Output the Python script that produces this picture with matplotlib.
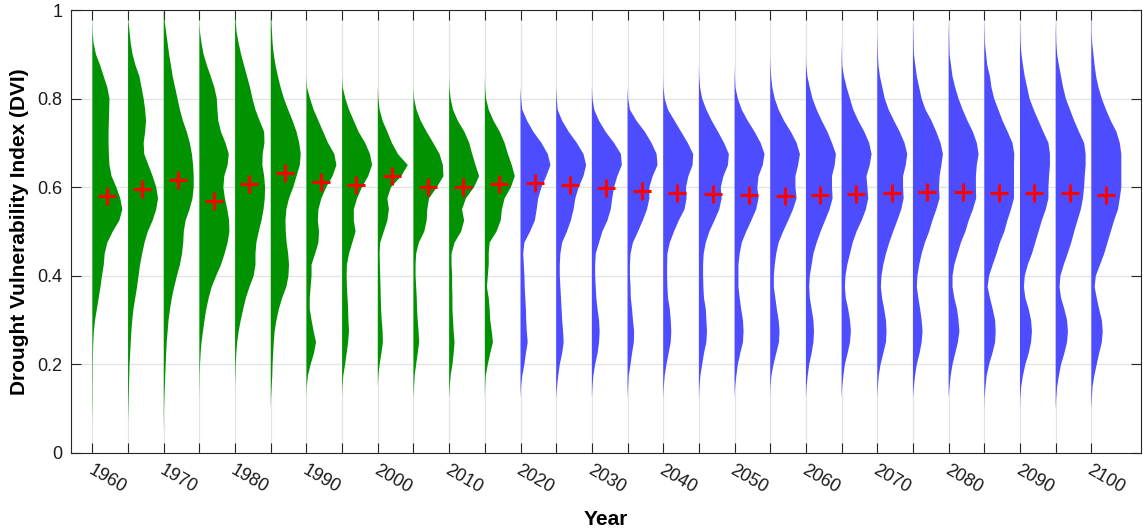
import numpy as np
import matplotlib
matplotlib.use("Agg")
import matplotlib.pyplot as plt
import matplotlib.transforms as mtransforms

plt.rcParams['font.family'] = ['Liberation Sans', 'DejaVu Sans']

# DVI levels at which the density profiles are sampled
dvi_levels = [0.05, 0.075, 0.1, 0.125, 0.15, 0.175, 0.2, 0.225, 0.25, 0.275,
              0.3, 0.325, 0.35, 0.375, 0.4, 0.425, 0.45, 0.475, 0.5, 0.525,
              0.55, 0.575, 0.6, 0.625, 0.65, 0.675, 0.7, 0.725, 0.75, 0.775,
              0.8, 0.825, 0.85, 0.875, 0.9, 0.925, 0.95, 0.975, 1.0]

years_obs = [1960, 1965, 1970, 1975, 1980, 1985, 1990, 1995, 2000, 2005, 2010, 2015]
years_proj = [2020, 2025, 2030, 2035, 2040, 2045, 2050, 2055, 2060, 2065, 2070,
              2075, 2080, 2085, 2090, 2095, 2100]

# relative density (1 = widest point) of each period, from low to high DVI
dens_1960 = [0, 0, 0.005, 0.01, 0.01, 0.015, 0.015, 0.02, 0.03, 0.05, 0.09, 0.15, 0.21, 0.27, 0.32, 0.38, 0.41, 0.50, 0.68, 0.90,
             1.0, 0.93, 0.80, 0.64, 0.57, 0.55, 0.54, 0.54, 0.55, 0.56, 0.57, 0.50, 0.38, 0.26, 0.12, 0.04, 0.01, 0, 0]
dens_1965 = [0, 0, 0.01, 0.02, 0.03, 0.04, 0.05, 0.07, 0.09, 0.11, 0.14, 0.18, 0.24, 0.30, 0.35, 0.40, 0.47, 0.55, 0.66, 0.82,
             0.94, 1.0, 0.94, 0.82, 0.68, 0.54, 0.52, 0.57, 0.60, 0.57, 0.52, 0.45, 0.38, 0.25, 0.15, 0.09, 0.05, 0.01, 0]
dens_1970 = [0, 0.005, 0.01, 0.02, 0.035, 0.05, 0.065, 0.08, 0.10, 0.13, 0.16, 0.21, 0.27, 0.35, 0.44, 0.54, 0.61, 0.65, 0.67, 0.73,
             0.86, 0.96, 1.0, 1.0, 0.98, 0.94, 0.87, 0.77, 0.64, 0.54, 0.46, 0.38, 0.30, 0.24, 0.18, 0.13, 0.08, 0.03, 0]
dens_1975 = [0, 0, 0, 0, 0.005, 0.01, 0.02, 0.04, 0.07, 0.12, 0.17, 0.23, 0.31, 0.41, 0.56, 0.72, 0.84, 0.94, 1.0, 0.99,
             0.93, 0.85, 0.80, 0.83, 0.94, 0.98, 0.87, 0.72, 0.63, 0.60, 0.58, 0.50, 0.38, 0.25, 0.14, 0.07, 0.02, 0, 0]
dens_1980 = [0, 0, 0, 0, 0, 0.01, 0.02, 0.04, 0.07, 0.12, 0.19, 0.27, 0.36, 0.48, 0.62, 0.68, 0.68, 0.71, 0.79, 0.88,
             0.95, 0.99, 1.0, 0.97, 0.91, 0.92, 0.98, 0.97, 0.82, 0.68, 0.58, 0.50, 0.40, 0.30, 0.20, 0.12, 0.05, 0.02, 0]
dens_1985 = [0, 0, 0, 0.01, 0.03, 0.05, 0.06, 0.08, 0.10, 0.13, 0.19, 0.27, 0.38, 0.52, 0.59, 0.61, 0.58, 0.53, 0.50, 0.49,
             0.52, 0.61, 0.75, 0.86, 0.97, 1.0, 0.95, 0.86, 0.73, 0.58, 0.44, 0.33, 0.24, 0.16, 0.10, 0.06, 0.04, 0.02, 0]
dens_1990 = [0, 0, 0, 0, 0.01, 0.05, 0.14, 0.25, 0.32, 0.24, 0.17, 0.11, 0.11, 0.14, 0.17, 0.17, 0.29, 0.40, 0.42, 0.38,
             0.40, 0.50, 0.66, 0.87, 1.0, 0.93, 0.72, 0.56, 0.40, 0.24, 0.12, 0.02, 0, 0, 0, 0, 0, 0, 0]
dens_1995 = [0, 0, 0, 0, 0.01, 0.04, 0.10, 0.15, 0.20, 0.23, 0.21, 0.20, 0.18, 0.16, 0.15, 0.16, 0.23, 0.34, 0.45, 0.39,
             0.39, 0.50, 0.66, 0.87, 1.0, 0.93, 0.77, 0.55, 0.39, 0.23, 0.11, 0.02, 0, 0, 0, 0, 0, 0, 0]
dens_2000 = [0, 0, 0, 0, 0, 0.02, 0.06, 0.12, 0.17, 0.16, 0.13, 0.11, 0.10, 0.09, 0.08, 0.07, 0.06, 0.08, 0.20, 0.32,
             0.37, 0.32, 0.44, 0.78, 1.0, 0.67, 0.47, 0.32, 0.16, 0.06, 0.02, 0, 0, 0, 0, 0, 0, 0, 0]
dens_2005 = [0, 0, 0, 0, 0.02, 0.04, 0.09, 0.14, 0.19, 0.17, 0.14, 0.12, 0.11, 0.09, 0.07, 0.07, 0.09, 0.18, 0.36, 0.44,
             0.46, 0.52, 0.78, 1.0, 0.98, 0.87, 0.66, 0.44, 0.24, 0.10, 0.02, 0, 0, 0, 0, 0, 0, 0, 0]
dens_2010 = [0, 0, 0, 0, 0.02, 0.05, 0.11, 0.15, 0.18, 0.15, 0.13, 0.11, 0.11, 0.10, 0.10, 0.08, 0.08, 0.18, 0.40, 0.50,
             0.43, 0.56, 0.83, 1.0, 0.88, 0.77, 0.67, 0.51, 0.29, 0.13, 0.05, 0.01, 0, 0, 0, 0, 0, 0, 0]
dens_2015 = [0, 0, 0, 0, 0.01, 0.03, 0.10, 0.18, 0.27, 0.23, 0.18, 0.16, 0.13, 0.07, 0.10, 0.13, 0.13, 0.16, 0.39, 0.53,
             0.57, 0.66, 0.87, 1.0, 0.90, 0.77, 0.66, 0.50, 0.29, 0.13, 0.04, 0.01, 0, 0, 0, 0, 0, 0, 0]
dens_2020 = [0, 0, 0, 0, 0.02, 0.06, 0.13, 0.18, 0.24, 0.21, 0.19, 0.18, 0.16, 0.14, 0.13, 0.11, 0.09, 0.13, 0.32, 0.48,
             0.54, 0.59, 0.70, 0.86, 1.0, 0.91, 0.70, 0.43, 0.22, 0.06, 0.02, 0, 0, 0, 0, 0, 0, 0, 0]
dens_2025 = [0, 0, 0, 0, 0.03, 0.07, 0.12, 0.20, 0.25, 0.23, 0.20, 0.18, 0.16, 0.14, 0.12, 0.12, 0.14, 0.20, 0.36, 0.49,
             0.58, 0.64, 0.75, 0.91, 1.0, 0.91, 0.69, 0.42, 0.20, 0.05, 0.02, 0, 0, 0, 0, 0, 0, 0, 0]
dens_2030 = [0, 0, 0, 0, 0.02, 0.05, 0.11, 0.19, 0.24, 0.26, 0.24, 0.19, 0.15, 0.13, 0.11, 0.11, 0.13, 0.24, 0.35, 0.52,
             0.63, 0.68, 0.74, 0.85, 1.0, 0.97, 0.74, 0.46, 0.24, 0.08, 0.02, 0, 0, 0, 0, 0, 0, 0, 0]
dens_2035 = [0, 0, 0, 0, 0.02, 0.04, 0.10, 0.15, 0.21, 0.22, 0.18, 0.15, 0.11, 0.10, 0.08, 0.08, 0.10, 0.18, 0.35, 0.51,
             0.65, 0.73, 0.73, 0.84, 1.0, 0.97, 0.80, 0.58, 0.30, 0.08, 0.02, 0, 0, 0, 0, 0, 0, 0, 0]
dens_2040 = [0, 0, 0, 0, 0.02, 0.05, 0.11, 0.18, 0.25, 0.27, 0.25, 0.22, 0.16, 0.14, 0.13, 0.13, 0.14, 0.22, 0.36, 0.52,
             0.71, 0.78, 0.76, 0.84, 0.98, 1.0, 0.82, 0.60, 0.38, 0.16, 0.05, 0.01, 0, 0, 0, 0, 0, 0, 0]
dens_2045 = [0, 0, 0, 0, 0.02, 0.05, 0.11, 0.17, 0.25, 0.27, 0.25, 0.23, 0.17, 0.15, 0.14, 0.14, 0.16, 0.23, 0.35, 0.52,
             0.68, 0.76, 0.73, 0.82, 0.97, 1.0, 0.84, 0.64, 0.43, 0.25, 0.11, 0.04, 0.01, 0, 0, 0, 0, 0, 0]
dens_2050 = [0, 0, 0, 0, 0.02, 0.06, 0.11, 0.19, 0.28, 0.30, 0.28, 0.22, 0.17, 0.13, 0.13, 0.13, 0.17, 0.24, 0.39, 0.56,
             0.72, 0.80, 0.76, 0.80, 0.94, 1.0, 0.87, 0.67, 0.44, 0.24, 0.11, 0.03, 0.01, 0, 0, 0, 0, 0, 0]
dens_2055 = [0, 0, 0, 0, 0.01, 0.04, 0.11, 0.20, 0.29, 0.31, 0.28, 0.22, 0.17, 0.12, 0.12, 0.15, 0.20, 0.28, 0.43, 0.60,
             0.76, 0.88, 0.84, 0.84, 0.93, 0.99, 0.88, 0.69, 0.46, 0.28, 0.15, 0.07, 0.03, 0.01, 0, 0, 0, 0, 0]
dens_2060 = [0, 0, 0, 0, 0.02, 0.06, 0.11, 0.19, 0.25, 0.27, 0.25, 0.19, 0.13, 0.11, 0.13, 0.19, 0.25, 0.36, 0.49, 0.64,
             0.79, 0.89, 0.87, 0.87, 0.96, 1.0, 0.87, 0.72, 0.53, 0.36, 0.22, 0.13, 0.05, 0.01, 0, 0, 0, 0, 0]
dens_2065 = [0, 0, 0, 0, 0.02, 0.06, 0.11, 0.20, 0.28, 0.31, 0.28, 0.22, 0.14, 0.11, 0.13, 0.19, 0.28, 0.37, 0.50, 0.67,
             0.81, 0.89, 0.86, 0.83, 0.94, 1.0, 0.92, 0.76, 0.56, 0.39, 0.28, 0.17, 0.08, 0.02, 0.01, 0, 0, 0, 0]
dens_2070 = [0, 0, 0, 0, 0.02, 0.05, 0.11, 0.20, 0.29, 0.31, 0.29, 0.23, 0.16, 0.12, 0.14, 0.20, 0.29, 0.40, 0.53, 0.67,
             0.80, 0.88, 0.86, 0.86, 0.95, 1.0, 0.91, 0.75, 0.56, 0.38, 0.25, 0.17, 0.09, 0.04, 0.02, 0.01, 0, 0, 0]
dens_2075 = [0, 0, 0, 0, 0.03, 0.07, 0.13, 0.22, 0.29, 0.32, 0.29, 0.24, 0.18, 0.13, 0.15, 0.21, 0.29, 0.40, 0.54, 0.65,
             0.78, 0.89, 0.87, 0.89, 0.95, 1.0, 0.92, 0.78, 0.62, 0.42, 0.29, 0.21, 0.13, 0.08, 0.03, 0.02, 0.01, 0, 0]
dens_2080 = [0, 0, 0, 0, 0.03, 0.07, 0.13, 0.22, 0.31, 0.36, 0.33, 0.28, 0.19, 0.13, 0.13, 0.19, 0.30, 0.41, 0.56, 0.67,
             0.81, 0.92, 0.91, 0.91, 0.94, 1.0, 0.94, 0.81, 0.63, 0.47, 0.33, 0.22, 0.13, 0.08, 0.03, 0.02, 0.01, 0, 0]
dens_2085 = [0, 0, 0, 0.01, 0.04, 0.08, 0.16, 0.27, 0.36, 0.38, 0.36, 0.28, 0.19, 0.11, 0.16, 0.28, 0.41, 0.52, 0.67, 0.77,
             0.89, 0.99, 0.99, 0.99, 0.99, 1.0, 0.94, 0.78, 0.61, 0.47, 0.33, 0.24, 0.19, 0.10, 0.06, 0.02, 0.01, 0, 0]
dens_2090 = [0, 0, 0, 0.01, 0.04, 0.10, 0.18, 0.29, 0.37, 0.40, 0.37, 0.29, 0.18, 0.13, 0.16, 0.26, 0.40, 0.51, 0.62, 0.73,
             0.86, 0.95, 0.95, 0.97, 1.0, 1.0, 0.95, 0.78, 0.62, 0.46, 0.32, 0.24, 0.16, 0.10, 0.05, 0.02, 0.01, 0, 0]
dens_2095 = [0, 0, 0, 0.02, 0.05, 0.11, 0.18, 0.29, 0.38, 0.41, 0.38, 0.29, 0.18, 0.13, 0.16, 0.27, 0.40, 0.52, 0.62, 0.73,
             0.84, 0.91, 0.95, 0.97, 1.0, 1.0, 0.95, 0.78, 0.62, 0.48, 0.34, 0.25, 0.18, 0.11, 0.05, 0.02, 0.01, 0, 0]
dens_2100 = [0, 0, 0, 0.02, 0.04, 0.10, 0.18, 0.26, 0.35, 0.38, 0.35, 0.26, 0.18, 0.11, 0.15, 0.29, 0.43, 0.54, 0.65, 0.76,
             0.89, 0.95, 1.0, 1.0, 1.0, 1.0, 0.95, 0.84, 0.65, 0.49, 0.35, 0.24, 0.16, 0.11, 0.07, 0.03, 0.01, 0.01, 0]

dens_obs = [dens_1960, dens_1965, dens_1970, dens_1975, dens_1980, dens_1985,
            dens_1990, dens_1995, dens_2000, dens_2005, dens_2010, dens_2015]
dens_proj = [dens_2020, dens_2025, dens_2030, dens_2035, dens_2040, dens_2045,
             dens_2050, dens_2055, dens_2060, dens_2065, dens_2070, dens_2075,
             dens_2080, dens_2085, dens_2090, dens_2095, dens_2100]

# mean DVI of each period
mean_obs = [0.581, 0.595, 0.617, 0.570, 0.608, 0.631, 0.611, 0.606, 0.626, 0.601, 0.601, 0.608]
mean_proj = [0.610, 0.604, 0.598, 0.592, 0.587, 0.585, 0.583, 0.581, 0.583, 0.585, 0.587,
             0.589, 0.589, 0.587, 0.587, 0.586, 0.583]

green = '#009200'
blue = '#4d4dff'
half_width = 4.2   # widest point of a half-violin, in years
mean_offset = 2.0  # where the mean marker sits inside each half-violin

fig = plt.figure(figsize=(11.43, 5.29), dpi=100)
ax = fig.add_axes([0.0621, 0.1437, 0.9364, 0.8373])

levels = np.array(dvi_levels)
for years, dens, means, col in [(years_obs, dens_obs, mean_obs, green),
                                (years_proj, dens_proj, mean_proj, blue)]:
    for yr, d in zip(years, dens):
        ax.fill_betweenx(levels, yr, yr + half_width * np.array(d),
                         facecolor=col, edgecolor='none', zorder=2)
    ax.plot(np.array(years) + mean_offset, means, linestyle='none', marker='+',
            color='red', markersize=13, markeredgewidth=2.2, zorder=3)

all_years = years_obs + years_proj
ax.set_xlim(1957, 2107)
ax.set_ylim(0, 1)
ax.set_xticks(all_years)
ax.set_yticks([0, 0.2, 0.4, 0.6, 0.8, 1])

ax.tick_params(direction='in', length=7.5, width=0.8, color='#262626',
               top=True, right=True)
ax.tick_params(axis='x', pad=6)
ax.tick_params(axis='y', pad=6)

ax.set_xticklabels([str(y) if y % 10 == 0 else '' for y in all_years],
                   rotation=-30, ha='left', fontsize=13, color='#1a1a1a')
ax.set_yticklabels(['0', '0.2', '0.4', '0.6', '0.8', '1'], fontsize=13, color='#1a1a1a')

# shift the slanted year labels slightly left of their ticks
shift = mtransforms.ScaledTranslation(-7 / 100, 0, fig.dpi_scale_trans)
for lab in ax.get_xticklabels():
    lab.set_transform(lab.get_transform() + shift)

ax.grid(True, color='#e3e3e3', linewidth=0.9)
ax.set_axisbelow(True)
for sp in ax.spines.values():
    sp.set_color('#262626')
    sp.set_linewidth(0.8)

ax.set_xlabel('Year', fontsize=15, fontweight='bold', labelpad=10)
ax.set_ylabel('Drought Vulnerability Index (DVI)', fontsize=15, fontweight='bold', labelpad=6)

fig.savefig('out.png', dpi=100)
